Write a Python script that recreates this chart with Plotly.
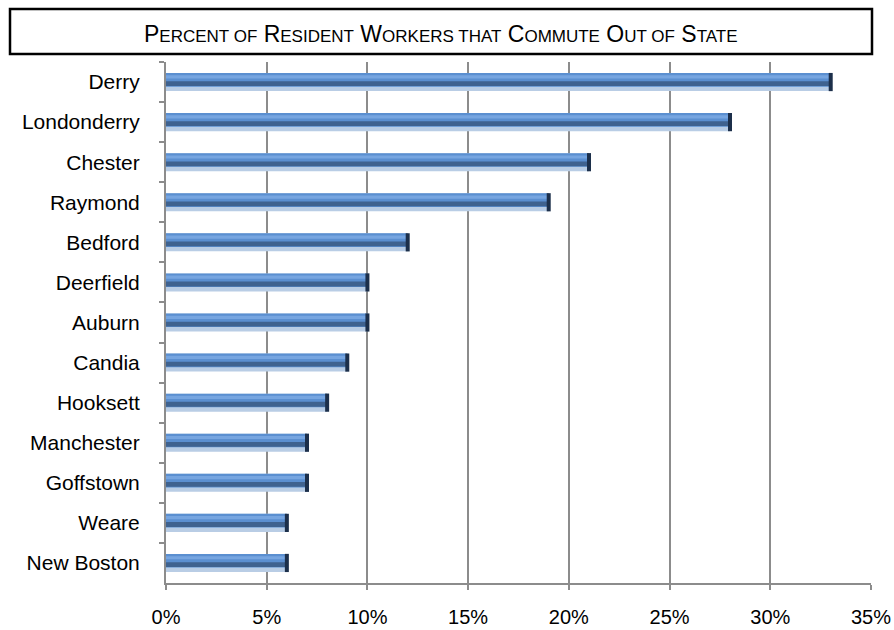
import plotly.graph_objects as go

towns = ["Derry", "Londonderry", "Chester", "Raymond", "Bedford", "Deerfield", "Auburn",
         "Candia", "Hooksett", "Manchester", "Goffstown", "Weare", "New Boston"]
pct = [33, 28, 21, 19, 12, 10, 10, 9, 8, 7, 7, 6, 6]
x_ticks = [0, 5, 10, 15, 20, 25, 30, 35]
x_tick_labels = ["0%", "5%", "10%", "15%", "20%", "25%", "30%", "35%"]

FONT = "Liberation Sans, Arial, sans-serif"

fig = go.Figure()
# pale lower shadow band
fig.add_trace(go.Bar(y=towns, x=pct, orientation="h", width=0.45, offset=-0.225,
                     marker=dict(color="#b9cde5", line=dict(width=0)), hoverinfo="skip"))
# main blue body
fig.add_trace(go.Bar(y=towns, x=pct, orientation="h", width=0.34, offset=-0.225,
                     marker=dict(color="#5b8fd0", line=dict(width=0)), hoverinfo="skip"))
# upper highlight
fig.add_trace(go.Bar(y=towns, x=pct, orientation="h", width=0.08, offset=-0.17,
                     marker=dict(color="#76a5e0", line=dict(width=0)), hoverinfo="skip"))
# darker middle band
fig.add_trace(go.Bar(y=towns, x=pct, orientation="h", width=0.12, offset=-0.02,
                     marker=dict(color="#3f628f", line=dict(width=0)), hoverinfo="skip"))
# dark end caps
fig.add_trace(go.Scatter(y=towns, x=pct, mode="markers",
                         marker=dict(symbol="line-ns", size=13, color="#1c2f4a",
                                     line=dict(width=4, color="#1c2f4a")),
                         hoverinfo="skip"))

S = "<span style='font-size:17px'>"
E = "</span>"
title = (f"P{S}ERCENT OF{E} R{S}ESIDENT{E} W{S}ORKERS THAT{E} C{S}OMMUTE{E} "
         f"O{S}UT OF{E} S{S}TATE{E}")

fig.update_layout(
    width=894, height=630,
    margin=dict(l=166, r=23, t=62, b=47, autoexpand=False),
    paper_bgcolor="white", plot_bgcolor="white",
    barmode="overlay", showlegend=False,
    font=dict(family=FONT, size=21, color="black"),
    xaxis=dict(range=[0, 35], tickvals=x_ticks, ticktext=x_tick_labels,
               showgrid=True, gridcolor="#8c8c8c", gridwidth=2,
               showline=True, linecolor="#8c8c8c", linewidth=2,
               ticks="outside", ticklen=5, tickcolor="#8c8c8c", tickwidth=2,
               tickfont=dict(size=20), automargin=False,
               ticklabelstandoff=10, zeroline=False, fixedrange=True),
    yaxis=dict(range=[len(towns) - 0.5, -0.5], showgrid=False,
               showline=True, linecolor="#8c8c8c", linewidth=2,
               ticks="outside", ticklen=5, tickcolor="#8c8c8c", tickwidth=2,
               automargin=False,
               tickson="boundaries", ticklabelstandoff=20, fixedrange=True),
    shapes=[dict(type="rect", xref="paper", yref="paper",
                 x0=(10 - 166) / 705, x1=(872 - 166) / 705,
                 y0=(582 - 54) / 520, y1=(582 - 9) / 520,
                 line=dict(color="black", width=2.5), fillcolor="rgba(0,0,0,0)")],
    annotations=[dict(text=title, xref="paper", yref="paper",
                      x=(441 - 166) / 705, y=(582 - 34) / 520,
                      xanchor="center", yanchor="middle", showarrow=False,
                      font=dict(family=FONT, size=23, color="black"))],
)

fig.write_html("out.html", config={"displayModeBar": False},
               post_script="document.body.style.margin='0px';")
